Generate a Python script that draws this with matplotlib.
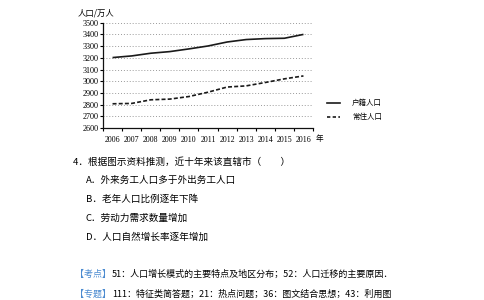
import numpy as np
import matplotlib
matplotlib.use('Agg')
import matplotlib.pyplot as plt

# Chart data
years = ['2006', '2007', '2008', '2009', '2010', '2011', '2012', '2013', '2014', '2015', '2016']
huji = [3202, 3216, 3239, 3253, 3276, 3301, 3335, 3356, 3364, 3367, 3400]
changzhu = [2807, 2810, 2841, 2847, 2869, 2906, 2950, 2960, 2989, 3020, 3045]
yticks = [2600, 2700, 2800, 2900, 3000, 3100, 3200, 3300, 3400, 3500]
series_names = ['户籍人口', '常住人口']
y_title = '人口/万人'
x_unit = '年'

question = '4．根据图示资料推测，近十年来该直辖市（　　）'
options = ['A．外来务工人口多于外出务工人口',
           'B．老年人口比例逐年下降',
           'C．劳动力需求数量增加',
           'D．人口自然增长率逐年增加']
notes = [('【考点】', '51：人口增长模式的主要特点及地区分布；52：人口迁移的主要原因．'),
         ('【专题】', '111：特征类简答题；21：热点问题；36：图文结合思想；43：利用图')]

W, H = 484, 300
cjk = ['Noto Sans CJK SC', 'DejaVu Sans']
serif = ['Liberation Serif', 'DejaVu Serif']
plt.rcParams['font.family'] = cjk

fig = plt.figure(figsize=(W / 100, H / 100), dpi=100)
fig.patch.set_facecolor('white')


def px(x, y):
    # pixel position (from top-left) -> figure fraction
    return x / W, 1 - y / H


# axes box in pixels: left 103, right 313, top 22.7, bottom 128
ax_left, ax_right, ax_top, ax_bottom = 103, 313, 22.7, 128
ax = fig.add_axes([ax_left / W, 1 - ax_bottom / H,
                   (ax_right - ax_left) / W, (ax_bottom - ax_top) / H])

x = np.arange(len(years))
ax.plot(x, huji, color='#1a1a1a', lw=1.2, solid_capstyle='butt')
ax.plot(x, changzhu, color='#1a1a1a', lw=1.2, ls=(0, (2.4, 1.3)))

ax.set_xlim(-0.5, len(years) - 0.5)
ax.set_ylim(2600, 3500)
ax.set_yticks(yticks)
ax.set_yticklabels([str(v) for v in yticks], family=serif, fontsize=5.9)
for v in yticks[1:]:
    ax.axhline(v, color='#9a9a9a', lw=0.7, ls=(0, (1, 2)), zorder=0)

# tick marks at category boundaries, labels at category centres
ax.set_xticks(np.arange(-0.5, len(years)))
ax.set_xticklabels([])
ax.set_xticks(x, minor=True)
ax.set_xticklabels(years, minor=True, family=serif, fontsize=5.7)
ax.tick_params(axis='x', which='major', direction='out', length=2.4, width=0.8)
ax.tick_params(axis='x', which='minor', length=0, pad=5.5)
ax.tick_params(axis='y', direction='out', length=2.2, width=0.8, pad=1.0)

for s in ['top', 'right']:
    ax.spines[s].set_visible(False)
for s in ['left', 'bottom']:
    ax.spines[s].set_linewidth(0.9)
    ax.spines[s].set_color('#111111')

# axis titles
fig.text(*px(78, 12.7), y_title, fontsize=6.0, va='center', ha='left')
fig.text(*px(319.5, 139), x_unit, fontsize=5.5, va='center', ha='center')

# legend drawn by hand to match the reference placement
leg_y = [103.3, 117.3]
leg_styles = ['-', (0, (2.0, 1.4))]
for yy, st, name in zip(leg_y, leg_styles, series_names):
    fig.add_artist(plt.Line2D([327 / W, 340 / W], [1 - yy / H] * 2,
                              color='#1a1a1a', lw=1.2, ls=st))
    fig.text(*px(352, yy), name, fontsize=5.4, va='center', ha='left')

# question text
fig.text(*px(73, 161.7), question, fontsize=6.9, va='center', ha='left')
for i, opt in enumerate(options):
    fig.text(*px(86, 180.7 + i * 18.9), opt, fontsize=6.9, va='center', ha='left')

for i, (tag, body) in enumerate(notes):
    yy = 274 + i * 20.3
    fig.text(*px(75, yy), tag, fontsize=6.5, va='center', ha='left',
             color='#4a8ad0')
    fig.text(*px(112, yy), body, fontsize=6.5, va='center', ha='left')

fig.savefig('out.png', dpi=100, facecolor='white')
